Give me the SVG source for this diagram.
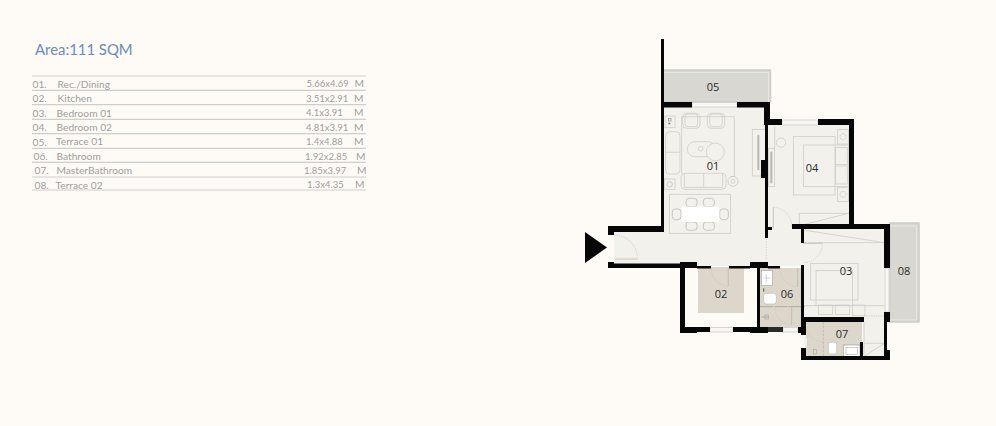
<svg xmlns="http://www.w3.org/2000/svg" width="996" height="426" viewBox="0 0 996 426">
<style>
.t{font-family:Lato,"Open Sans",sans-serif;font-size:10.2px;fill:#9f9f9d}
.n{font-size:9.5px}
.title{font-family:Lato,"Open Sans",sans-serif;font-size:14.9px;fill:#6a8bbd}
.l{font-family:"Open Sans","Noto Sans",sans-serif;font-size:11px;fill:#2a2a2a;text-anchor:middle}
.r{stroke:#cfcfcc;stroke-width:1.2}
.w{fill:#070707}
.f{fill:none;stroke:#cfcdc6;stroke-width:2.4}
.d{fill:none;stroke:#c6c4bd;stroke-width:2;stroke-dasharray:4 3}
.g{fill:none;stroke:#bdbbb4;stroke-width:2.4}
.win{fill:#f8f7f3;stroke:#cfcdc8;stroke-width:.8}
</style>
<rect width="996" height="426" fill="#fefaf6"/>
<g id="legend">
<text class="title" x="35" y="55">Area:111 SQM</text>
<g>
<path class="r" d="M32 76H366M32 90.400H366M32 104.700H366M32 119.300H366M32 133.700H366M32 148.300H366M32 162.400H366M32 177H366M32 190H366" fill="none"/>
</g>
<text class="t" x="32.500" y="87.500">01.</text><text class="t" x="57.500" y="87.500">Rec./Dining</text><text class="t n" x="306.500" y="87">5.66x4.69</text><text class="t" x="354.500" y="87">M</text>
<text class="t" x="32.500" y="102">02.</text><text class="t" x="57.500" y="102">Kitchen</text><text class="t n" x="306" y="101.500">3.51x2.91</text><text class="t" x="354" y="101.500">M</text>
<text class="t" x="32.500" y="117">03.</text><text class="t" x="56.500" y="117">Bedroom 01</text><text class="t n" x="306" y="116">4.1x3.91</text><text class="t" x="354" y="116">M</text>
<text class="t" x="32.500" y="131">04.</text><text class="t" x="56.500" y="131">Bedroom 02</text><text class="t n" x="306" y="130.500">4.81x3.91</text><text class="t" x="354" y="130.500">M</text>
<text class="t" x="32.500" y="145.500">05.</text><text class="t" x="56" y="145">Terrace 01</text><text class="t n" x="306" y="145">1.4x4.88</text><text class="t" x="354" y="145">M</text>
<text class="t" x="33.500" y="160">06.</text><text class="t" x="56.500" y="160">Bathroom</text><text class="t n" x="305" y="160">1.92x2.85</text><text class="t" x="356" y="160">M</text>
<text class="t" x="34.500" y="174">07.</text><text class="t" x="56.500" y="174">MasterBathroom</text><text class="t n" x="304" y="174">1.85x3.97</text><text class="t" x="357" y="174">M</text>
<text class="t" x="34.500" y="189">08.</text><text class="t" x="55.500" y="189">Terrace 02</text><text class="t n" x="307" y="187.500">1.3x4.35</text><text class="t" x="355" y="187.500">M</text>
</g>
<g id="floors">
<path d="M664 107H765V125H849V226H884V356H863V322H803V266H614V232H664Z" fill="#f3f1ec"/>
<rect x="698" y="267" width="46" height="46" fill="#ddd6cb"/>
<rect x="760" y="268" width="41" height="59" fill="#ddd6cb"/>
<rect x="806" y="322" width="56" height="35" fill="#ddd6cb"/>
</g>
<g id="n05"><rect x="663" y="70" width="107.500" height="32" fill="#d9d7d1" stroke="#cfcdc8" stroke-width="1.500"/><path d="M663 72.500H768.500V102" fill="none" stroke="#e8e6e1" stroke-width="1"/><text class="l" x="713" y="91">05</text></g>
<g id="n08"><rect x="890" y="223" width="29" height="99" fill="#d9d7d1" stroke="#cfcdc8" stroke-width="1.500"/><path d="M890 226H916.500V320H890" fill="none" stroke="#e8e6e1" stroke-width="1"/><text class="l" x="904" y="275">08</text></g>
<g id="furniture01" transform="translate(650 30) scale(.3333)">
<path class="f" d="M95 260H253V440H240M95 260V430"/>
<rect class="f" x="98" y="250" width="52" height="45" rx="12"/><rect class="f" x="105" y="252" width="38" height="38" rx="9"/>
<rect class="f" x="172" y="250" width="52" height="45" rx="12"/><rect class="f" x="179" y="252" width="38" height="38" rx="9"/>
<rect class="f" x="45" y="258" width="30" height="35"/><rect x="55" y="266" width="8" height="7" fill="none" stroke="#888" stroke-width="2"/><rect x="55" y="278" width="6" height="5" fill="#777"/>
<rect class="f" x="47" y="305" width="43" height="127" rx="12"/><path class="f" d="M47 367H90"/>
<rect class="f" x="112" y="335" width="83" height="45" rx="22"/><circle class="f" cx="196" cy="366" r="27" style="fill:#f3f1ec"/><circle class="f" cx="152" cy="356" r="7"/>
<rect class="f" x="93" y="430" width="135" height="48" rx="12"/><path class="f" d="M161 432V472M103 432V472H218V432"/>
<circle class="f" cx="249" cy="454" r="15"/><circle class="f" cx="249" cy="454" r="6"/>
<rect class="f" x="43" y="447" width="32" height="32"/><circle class="g" cx="59" cy="463" r="8"/>
<rect class="f" x="58" y="493" width="184" height="117"/>
<g class="g"><rect class="g" x="108" y="505" width="33" height="25" rx="9"/><rect class="g" x="160" y="505" width="33" height="25" rx="9"/><rect class="g" x="108" y="576" width="33" height="25" rx="9"/><rect class="g" x="160" y="576" width="33" height="25" rx="9"/><rect class="g" x="67" y="537" width="26" height="32" rx="9"/><rect class="g" x="209" y="537" width="26" height="32" rx="9"/></g>
<rect x="95" y="530" width="113" height="46" fill="#fff"/>
<rect class="f" x="307" y="298" width="45" height="140"/><rect x="322" y="315" width="6" height="105" fill="#b9b7b1"/>
</g>
<g id="furniture04" transform="translate(650 30) scale(.3333)">
<path class="f" d="M374 290V355"/><rect class="f" x="356" y="355" width="18" height="115"/><rect x="361" y="365" width="6" height="95" fill="#b9b7b1"/>
<circle class="f" cx="393" cy="338" r="14"/>
<rect class="f" x="430" y="320" width="125" height="175"/><rect class="f" x="461" y="345" width="135" height="125"/>
<rect class="f" x="556" y="352" width="36" height="52"/><rect class="f" x="556" y="408" width="36" height="54"/>
<rect class="f" x="563" y="299" width="32" height="43"/><circle class="g" cx="579" cy="320" r="9" stroke-dasharray="3 2"/>
<rect class="f" x="563" y="472" width="32" height="43"/><circle class="g" cx="579" cy="493" r="9" stroke-dasharray="3 2"/>
<path class="f" d="M448 590V550H596L448 587"/>
<path class="g" d="M370 595V532"/><path class="d" d="M370 532A56 56 0 0 1 425 590"/>
</g>
<g id="furniture03" transform="translate(760 210) scale(.3333)">
<path class="f" d="M130 98H373L130 60"/>
<path class="g" d="M130 100H187"/><path class="d" d="M187 100A57 57 0 0 1 130 158"/>
<rect class="f" x="152" y="160" width="142" height="110"/><rect class="f" x="168" y="182" width="110" height="105"/>
<path class="f" d="M130 287H373"/>
<rect class="f" x="175" y="285" width="43" height="28"/><rect class="f" x="226" y="285" width="43" height="28"/><rect class="f" x="278" y="285" width="37" height="32"/>
<path class="f" d="M312 400H373L312 440M312 335V440"/>
<path class="d" d="M312 318H372"/>
<path d="M140 440H300" stroke="#a9a69d" stroke-width="2.500"/>
<path d="M190 335V440" stroke="#b0ada4" stroke-width="2" stroke-dasharray="8 4"/>
<path class="d" d="M140 360A50 50 0 0 0 190 395"/><path d="M190 335H300" stroke="#b0ada4" stroke-width="2"/>
<rect x="205" y="397" width="25" height="35" rx="5" fill="#fff" stroke="#aaa" stroke-width="1.500"/>
<rect x="250" y="405" width="50" height="35" fill="#fff" stroke="#999" stroke-width="2"/><rect x="258" y="412" width="34" height="22" fill="none" stroke="#999" stroke-width="1.500"/>
<rect x="160" y="418" width="10" height="14" fill="none" stroke="#aaa" stroke-width="2"/>
<rect x="135" y="382" width="6" height="28" fill="#f8f7f3" stroke="#ccc" stroke-width="1"/>
</g>
<g id="furniture-baths" transform="translate(575 200) scale(.3333)">
<path class="g" d="M460 205V258"/><path class="d" d="M460 258A53 53 0 0 1 408 205"/>
<path class="g" d="M668 205V260"/><path class="d" d="M668 260A54 54 0 0 1 615 205"/>
<rect x="560" y="212" width="32" height="45" fill="#fff" stroke="#aaa" stroke-width="2"/><path d="M566 234H586M574 222V248" stroke="#aaa" stroke-width="1.500"/>
<rect x="566" y="280" width="38" height="32" rx="8" fill="#fff" stroke="#aaa" stroke-width="1.500"/>
<rect x="564" y="265" width="4" height="10" fill="#777"/>
<path d="M555 320H690" stroke="#a9a69d" stroke-width="2.500" stroke-dasharray="40 3"/>
<path class="g" d="M650 322V375"/><path class="d" d="M650 375A53 53 0 0 1 600 322"/>
<path d="M560 351H580" stroke="#aaa" stroke-width="3"/><rect x="570" y="345" width="10" height="12" fill="none" stroke="#aaa" stroke-width="2"/>
</g>
<g id="entry" transform="translate(575 200) scale(.3333)">
<path class="g" d="M120 177H187"/><path class="d" d="M118 105A70 70 0 0 1 187 177"/>
<path d="M574 115V180" stroke="#d0cec8" stroke-width="2" fill="none" stroke-dasharray="5 3"/>
</g>
<g id="windows">
<rect class="win" x="692" y="102.500" width="45" height="4.500"/>
<rect class="win" x="782" y="120" width="36" height="5"/>
<rect class="win" x="710" y="327.500" width="23" height="4.500"/>
<rect class="win" x="783" y="327.500" width="15" height="4.500"/>
<rect class="win" x="885" y="268" width="4" height="44"/>
</g>
<g id="walls">
<rect class="w" x="661" y="39" width="3" height="193"/>
<rect class="w" x="661" y="102" width="31" height="5.500"/>
<rect class="w" x="737" y="102" width="33" height="5.500"/>
<rect class="w" x="764" y="102" width="6" height="23"/>
<rect class="w" x="765" y="125" width="3" height="113"/>
<rect class="w" x="761" y="160" width="6" height="18"/>
<rect class="w" x="768" y="119" width="14" height="6"/>
<rect class="w" x="818" y="119" width="36" height="6"/>
<rect class="w" x="849" y="119" width="5" height="110"/>
<rect class="w" x="792" y="224" width="98" height="5"/>
<rect class="w" x="768" y="227" width="4" height="3"/>
<rect class="w" x="801" y="229" width="3" height="14"/>
<rect class="w" x="884" y="224" width="6" height="44"/>
<rect class="w" x="884" y="312" width="6" height="10"/>
<rect class="w" x="884" y="322" width="3" height="28"/>
<rect class="w" x="884" y="350" width="6" height="10"/>
<rect class="w" x="801" y="356" width="89" height="4"/>
<rect class="w" x="608" y="226" width="56" height="6"/>
<rect class="w" x="608" y="226" width="6" height="9"/>
<rect class="w" x="608" y="262" width="6" height="6"/>
<rect class="w" x="608" y="263.500" width="72" height="4.500"/>
<rect class="w" x="680" y="262" width="17" height="6"/>
<rect class="w" x="697" y="266" width="14" height="2.500"/>
<rect class="w" x="729" y="266" width="21" height="2.500"/>
<rect class="w" x="750" y="262" width="18" height="6"/>
<rect class="w" x="768" y="266" width="12" height="2.500"/>
<rect class="w" x="680" y="262" width="5" height="71"/>
<rect class="w" x="680" y="327" width="17" height="6"/>
<rect class="w" x="697" y="327" width="13" height="5"/>
<rect class="w" x="733" y="327" width="17" height="5"/>
<rect class="w" x="750" y="327" width="18" height="6"/>
<rect class="w" x="757" y="268" width="3" height="60"/>
<rect class="w" x="768" y="327" width="15" height="5" fill-opacity=".85"/>
<rect class="w" x="798" y="327" width="7" height="6"/>
<rect class="w" x="801" y="265" width="3" height="70"/>
<rect class="w" x="801" y="317" width="63" height="5"/>
<rect class="w" x="801" y="322" width="5" height="13"/>
<rect class="w" x="801" y="348" width="5" height="12"/>
<rect class="w" x="860" y="342" width="3" height="15"/>
</g>
<g id="labels">
<text class="l" x="713" y="170">01</text>
<text class="l" x="812" y="172">04</text>
<text class="l" x="721" y="298">02</text>
<text class="l" x="787" y="298">06</text>
<text class="l" x="846" y="275">03</text>
<text class="l" x="842" y="338">07</text>
</g>
<polygon id="entrance" points="585,232 607,247.500 585,263" fill="#070707"/>
</svg>
